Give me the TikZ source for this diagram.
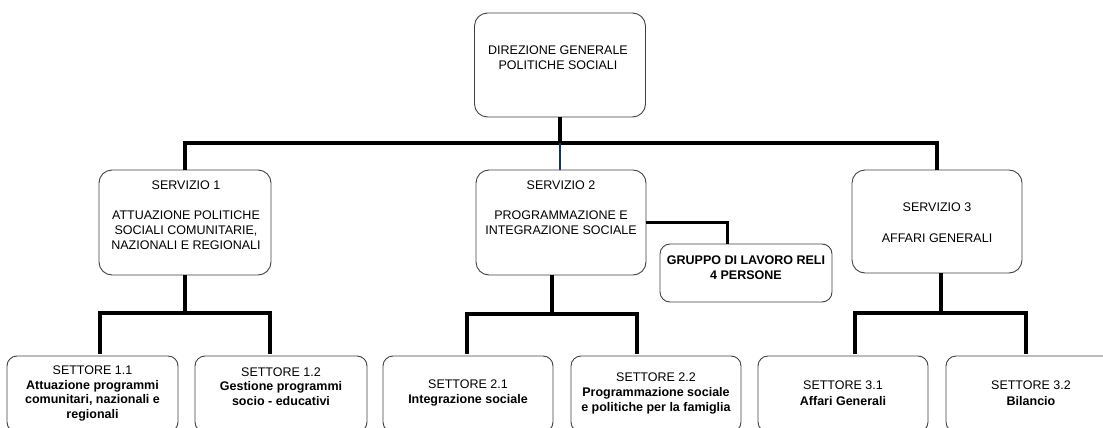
\documentclass[tikz,border=0pt]{standalone}
\usepackage{fontspec}
\setmainfont{Liberation Sans}
\usetikzlibrary{positioning,calc}

\begin{document}
\begin{tikzpicture}[x=1pt,y=-1pt,
  box/.style={draw=black!75, line width=0.9pt, rounded corners=13pt, inner sep=0pt},
  sbox/.style={box, rounded corners=10pt, minimum width=170pt, minimum height=76pt},
  conn/.style={line width=4pt},
  txt/.style={align=center, inner sep=0pt, font=\fontsize{12.5}{15}\selectfont},
  txtb/.style={txt, font=\fontsize{12.5}{15}\selectfont\bfseries}]
\clip (0,0) rectangle (1103,428);
% boxes
\node[box, minimum width=171pt, minimum height=104pt] (dir) at (560,65) {};
\node[box, minimum width=172pt, minimum height=105pt] (s1) at (185,222.5) {};
\node[box, minimum width=170pt, minimum height=105pt] (s2) at (561,222.5) {};
\node[box, minimum width=170pt, minimum height=103pt] (s3) at (937,221.5) {};
\node[box, rounded corners=10pt, minimum width=172pt, minimum height=58pt] (grp) at (746,273) {};
\node[sbox, minimum width=171pt] (st11) at (92.5,394) {};
\node[sbox, minimum width=172pt] (st12) at (281,394) {};
\node[sbox] (st21) at (468,394) {};
\node[sbox] (st22) at (656,394) {};
\node[sbox] (st31) at (843,394) {};
\node[sbox] (st32) at (1031,394) {};
% texts
\node[txt] (dirt) at (558,57.5) {DIREZIONE GENERALE\\POLITICHE SOCIALI};
\node[txt] (s1t) at (186,215) {SERVIZIO 1\\[15pt]ATTUAZIONE POLITICHE\\SOCIALI COMUNITARIE,\\NAZIONALI E REGIONALI};
\node[txt] (s2t) at (561,207.5) {SERVIZIO 2\\[15pt]PROGRAMMAZIONE E\\INTEGRAZIONE SOCIALE};
\node[txt] (s3t) at (937,222.5) {SERVIZIO 3\\[16pt]AFFARI GENERALI};
\node[txtb] (grpt) at (746,267.5) {GRUPPO DI LAVORO RELI\\4 PERSONE};
\node[txt, font=\fontsize{12.5}{14.5}\selectfont] (st11t) at (92.5,393.5) {SETTORE 1.1\\\textbf{Attuazione programmi}\\\textbf{comunitari, nazionali e}\\\textbf{regionali}};
\node[txt, font=\fontsize{12.5}{14.5}\selectfont] (st12t) at (281,386.5) {SETTORE 1.2\\\textbf{Gestione programmi}\\\textbf{socio - educativi}};
\node[txt] (st21t) at (468,392.5) {SETTORE 2.1\\\textbf{Integrazione sociale}};
\node[txt] (st22t) at (656,393) {SETTORE 2.2\\\textbf{Programmazione sociale}\\\textbf{e politiche per la famiglia}};
\node[txt, font=\fontsize{12.5}{16}\selectfont] (st31t) at (843,393.5) {SETTORE 3.1\\\textbf{Affari Generali}};
\node[txt, font=\fontsize{12.5}{16}\selectfont] (st32t) at (1031,393.5) {SETTORE 3.2\\\textbf{Bilancio}};
% top level connectors
\coordinate (bus) at (560,143);
\draw[conn] (dir) -- (bus);
\draw[conn] (s1) |- (bus) -| (s3);
\draw[line width=2pt, color={rgb,255:red,20;green,50;blue,100}] (bus) -- (bus |- s2.north);
% gruppo di lavoro
\coordinate (g) at (727,244);
\draw[line width=3pt] (s2.east) -| (g);
% servizio 1
\coordinate (k1) at (185,313);
\coordinate (j11) at (100,354);
\coordinate (j12) at (270,354);
\draw[conn] (s1) -- (k1);
\draw[conn] (j11) |- (k1) -| (j12);
% servizio 2
\coordinate (k2) at (552,314);
\coordinate (j21) at (467,354);
\coordinate (j22) at (637,354);
\draw[conn] (k2 |- s2.south) -- (k2);
\draw[conn] (j21) |- (k2) -| (j22);
% servizio 3
\coordinate (k3) at (941,313);
\coordinate (j31) at (855,354);
\coordinate (j32) at (1026,354);
\draw[conn] (k3 |- s3.south) -- (k3);
\draw[conn] (j31) |- (k3) -| (j32);
\end{tikzpicture}
\end{document}
